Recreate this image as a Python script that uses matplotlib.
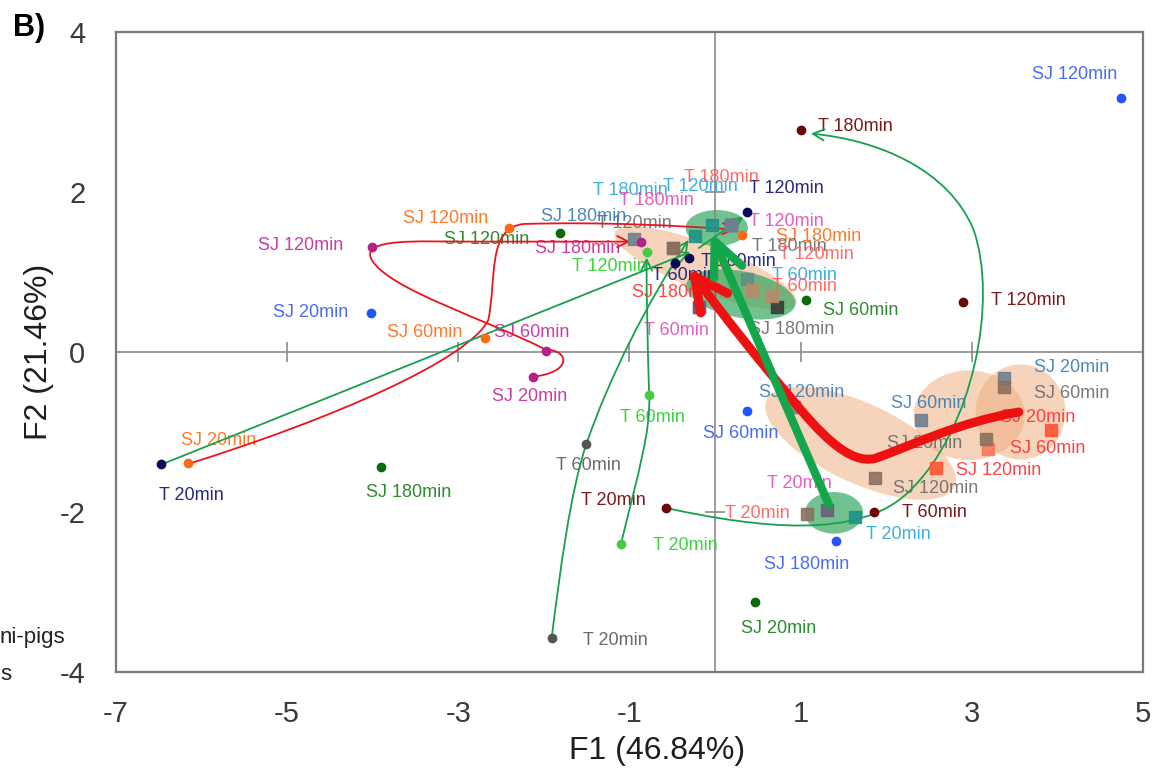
import matplotlib
matplotlib.use("Agg")
import numpy as np
from matplotlib import pyplot as plt
from matplotlib.patches import Ellipse, FancyArrowPatch
from matplotlib.path import Path

plt.rcParams["font.family"] = ["Liberation Sans", "DejaVu Sans"]
plt.rcParams["axes.unicode_minus"] = False

# individual samples (dots)
pt_label = ["SJ 120min", "T 180min", "T 120min", "T 60min", "T 20min",
            "SJ 120min", "SJ 20min", "SJ 60min", "SJ 20min", "SJ 120min",
            "SJ 60min", "SJ 20min", "T 20min", "SJ 120min", "SJ 180min",
            "SJ 60min", "SJ 20min", "T 60min", "T 20min", "T 60min",
            "T 20min", "T 120min", "SJ 60min", "SJ 180min", "T 120min",
            "SJ 180min", "SJ 180min", "T 60min", "T 180min"]
pt_x = [4.74, 1.01, 2.90, 1.86, -0.57, -4.01, -4.02, -1.98, -2.13, -2.41,
        -2.69, -6.16, -6.48, -1.81, -3.90, 1.06, 0.47, -1.51, -1.91, -0.77,
        -1.10, -0.80, 0.37, 1.41, 0.37, 0.31, -0.87, -0.47, -0.30]
pt_y = [3.18, 2.78, 0.63, -2.00, -1.95, 1.31, 0.49, 0.01, -0.31, 1.55,
        0.18, -1.39, -1.40, 1.49, -1.44, 0.65, -3.13, -1.15, -3.58, -0.54,
        -2.40, 1.25, -0.74, -2.36, 1.75, 1.46, 1.38, 1.11, 1.18]
pt_group = ["blue", "maroon", "maroon", "maroon", "maroon",
            "magenta", "blue", "magenta", "magenta", "orange",
            "orange", "orange", "navy", "dgreen", "dgreen",
            "dgreen", "dgreen", "gray", "gray", "lgreen",
            "lgreen", "lgreen", "blue", "blue", "navy",
            "orange", "magenta", "navy", "navy"]

# group means (squares)
sq_label = ["T 120min", "SJ 180min", "T 180min", "T 120min", "T 180min",
            "T 180min", "T 120min", "T 180min", "T 120min", "T 60min",
            "T 60min", "SJ 180min", "T 60min", "SJ 180min", "",
            "SJ 20min", "SJ 60min", "SJ 20min", "SJ 60min", "SJ 20min",
            "SJ 120min", "SJ 60min", "SJ 120min", "SJ 120min", "T 20min",
            "T 20min", "T 20min"]
sq_x = [-0.95, -0.49, -0.23, -0.04, 0.19, -0.49, 0.19, 0.19, 0.19, 0.37,
        0.43, -0.19, -0.19, 0.72, 0.66, 3.38, 3.38, 3.93, 3.19, 3.17,
        2.58, 2.41, 1.87, 0.92, 1.08, 1.31, 1.64]
sq_y = [1.41, 1.30, 1.45, 1.59, 1.59, 1.30, 1.59, 1.59, 1.59, 0.91,
        0.78, 0.56, 0.56, 0.56, 0.70, -0.33, -0.44, -0.98, -1.21, -1.09,
        -1.45, -0.85, -1.58, -0.69, -2.03, -1.98, -2.06]
sq_group = ["gray", "steel", "sky", "sky", "salmon", "pink", "pink", "gray",
            "salmon", "sky", "salmon", "red", "pink", "gray", "gray",
            "steel", "gray", "red", "red", "gray", "red", "steel", "gray",
            "steel", "salmon", "pink", "sky"]
sq_face = ["steel", "brown", "teal", "teal", "steel", "brown", "steel",
           "steel", "steel", "slate", "tan", "purple", "purple", "dark",
           "tan", "steel", "brown", "red", "salmon", "brown", "red", "steel",
           "brown", "steel", "brown", "purple", "teal"]

# cluster ellipses: x, y, width, height, angle
peach_x = [-0.11, 1.70, 2.97, 3.57]
peach_y = [1.05, -1.14, -0.79, -0.75]
peach_w = [2.30, 2.45, 1.30, 1.05]
peach_h = [0.58, 0.98, 1.12, 1.19]
peach_a = [-23, -27, 0, 0]
green_x = [0.02, 0.30, 1.39]
green_y = [1.55, 0.72, -2.01]
green_w = [0.73, 1.30, 0.68]
green_h = [0.45, 0.58, 0.52]
green_a = [0, -12, 0]

# trajectories (bezier control points, data units)
red_orange = [(-6.16, -1.40), (-4.51, -0.85), (-2.88, -0.10), (-2.65, 0.40),
              (-2.55, 0.90), (-2.67, 1.55), (-2.24, 1.60),
              (-1.36, 1.63), (-0.43, 1.58), (0.24, 1.53)]
red_magenta = [(-2.13, -0.31), (-1.65, -0.25), (-1.71, 0.03), (-1.98, 0.03),
               (-2.65, 0.40), (-3.81, 0.78), (-4.01, 1.15),
               (-4.16, 1.43), (-3.46, 1.38), (-2.88, 1.38),
               (-2.30, 1.38), (-1.60, 1.38), (-0.99, 1.38)]
green_navy1 = [(-6.48, -1.41), (-0.29, 1.25)]
green_navy2 = [(-0.19, 1.30), (0.33, 1.69)]
green_gray = [(-1.91, -3.58), (-1.81, -2.73), (-1.69, -1.73), (-1.50, -1.14),
              (-1.25, -0.35), (-0.78, 0.65), (-0.31, 1.40)]
green_light = [(-1.10, -2.40), (-0.89, -1.48), (-0.75, -0.98), (-0.77, -0.54),
               (-0.79, 0.15), (-0.80, 0.65), (-0.80, 1.18)]
green_maroon = [(-0.57, -1.95), (0.51, -2.20), (1.68, -2.35), (2.26, -1.75),
                (3.02, -0.98), (3.31, 0.65), (3.02, 1.53),
                (2.73, 2.28), (1.91, 2.65), (1.12, 2.73)]
thick_red = [(3.55, -0.75), (2.84, -0.88), (2.32, -1.16), (1.87, -1.33),
             (1.56, -1.41), (1.21, -1.00), (0.86, -0.54),
             (0.55, -0.15), (0.10, 0.45), (-0.31, 1.05)]
thick_green = [(1.33, -1.91), (-0.05, 1.50)]

# ---- styling / layout ----
label_col = {"blue": "#4a6cf5", "maroon": "#7a1a1a", "magenta": "#c93ca6",
             "orange": "#ff7a2a", "navy": "#28287e", "dgreen": "#2e8b2e",
             "gray": "#6b6b6b", "lgreen": "#3dd43d", "steel": "#3a7db0",
             "sky": "#2aa6dc", "salmon": "#ff5c5c", "pink": "#e44cb8",
             "red": "#ff3030"}
dot_col = {"blue": "#2255ff", "maroon": "#6a0808", "magenta": "#b5208a",
           "orange": "#ff6a12", "navy": "#0a0a5a", "dgreen": "#0a6a0a",
           "gray": "#555555", "lgreen": "#44cc44"}
sq_col = {"steel": "#6e8090", "brown": "#8b7060", "teal": "#1f9488",
          "red": "#ff5533", "salmon": "#fa7a5a", "purple": "#6f5c7e",
          "dark": "#3a3a3a", "tan": "#b98a68", "slate": "#5f8f88"}

# label offsets in pixels from the marker
pt_offset = [(-46, 23), (54, 3), (65, 1), (60, 0), (-53, 8), (-71, 2), (-60, 0),
             (-14, 19), (-3, -20), (-63, 10), (-60, 5), (31, 23), (31, -31),
             (-74, -7), (27, -25), (55, -10), (23, -26), (3, -21), (64, -2),
             (3, -22), (64, -1), (-37, -14), (-6, -22), (-29, -24), (40, 24),
             (77, -1), (-63, -7), (10, -12), (49, -4)]
sq_offset = [(1, 16), (-89, 32), (-65, 46), (-11, 38), (-10, 47), (-17, 48),
             (55, 3), (58, -22), (85, -30), (58, 4), (53, 3), (-24, 15),
             (-22, -23), (15, -22), (0, 0), (67, 11), (67, -6), (-14, 13),
             (60, 0), (-62, -4), (63, -2), (7, 17), (61, -10), (8, 15),
             (-50, 1), (-28, 27), (43, -18)]


def bezier(pts):
    codes = [Path.MOVETO] + ([Path.LINETO] if len(pts) == 2 else [Path.CURVE4] * (len(pts) - 1))
    return Path(pts, codes)


fig = plt.figure(figsize=(11.6, 7.77), dpi=100)
ax = fig.add_axes([0.1, 0.1351, 0.8853, 0.8237])
ax.set_xlim(-7, 5)
ax.set_ylim(-4, 4)

for s in ax.spines.values():
    s.set_color("#7a7a7a")
    s.set_linewidth(1.6)

ax.set_xticks([-7, -5, -3, -1, 1, 3, 5])
ax.set_xticklabels(["-7", "-5", "-3", "-1", "1", "3", "5"])
ax.set_yticks([-4, -2, 0, 2, 4])
ax.set_yticklabels(["-4", "-2", "0", "2", "4"])
ax.tick_params(axis="both", length=0, labelsize=21, labelcolor="#3a3a3a")
ax.tick_params(axis="x", pad=20)
ax.tick_params(axis="y", pad=22)

ax.set_xlabel("F1 (46.84%)", fontsize=23, color="#1e1e1e")
ax.xaxis.set_label_coords(0.527, -0.10)
ax.set_ylabel("F2 (21.46%)", fontsize=23, color="#1e1e1e")
ax.yaxis.set_label_coords(-0.06, 0.5)

# axes through the origin with small ticks
ax.axhline(0, color="#8a8a8a", lw=1.2, zorder=1.5)
ax.axvline(0, color="#8a8a8a", lw=1.2, zorder=1.5)
ax.plot([-5, -3, -1, 1, 3], [0] * 5, ls="none", marker="|", ms=14,
        mew=1.2, color="#8a8a8a", zorder=1.5)
ax.plot([0, 0], [-2, 2], ls="none", marker="_", ms=14, mew=1.2,
        color="#8a8a8a", zorder=1.5)

for i in range(len(peach_x)):
    ax.add_patch(Ellipse((peach_x[i], peach_y[i]), peach_w[i], peach_h[i],
                         angle=peach_a[i], facecolor="#f0b083", alpha=0.55,
                         edgecolor="none", zorder=1))
for i in range(len(green_x)):
    ax.add_patch(Ellipse((green_x[i], green_y[i]), green_w[i], green_h[i],
                         angle=green_a[i], facecolor="#2ea55c", alpha=0.68,
                         edgecolor="none", zorder=1.2))

# labels
for i in range(len(pt_label)):
    ax.annotate(pt_label[i], (pt_x[i], pt_y[i]), xytext=pt_offset[i],
                textcoords="offset pixels", ha="center", va="center",
                fontsize=13, color=label_col[pt_group[i]], zorder=2)
for i in range(len(sq_label)):
    if sq_label[i]:
        ax.annotate(sq_label[i], (sq_x[i], sq_y[i]), xytext=sq_offset[i],
                    textcoords="offset pixels", ha="center", va="center",
                    fontsize=13, color=label_col[sq_group[i]], alpha=0.9,
                    zorder=2)

# thin trajectories
thin = [(red_orange, "#e8141e"), (red_magenta, "#e8141e"),
        (green_navy1, "#17a04e"), (green_navy2, "#17a04e"),
        (green_gray, "#17a04e"), (green_light, "#17a04e"),
        (green_maroon, "#17a04e")]
for pts, c in thin:
    ax.add_patch(FancyArrowPatch(path=bezier(pts), arrowstyle="->,head_length=0.8,head_width=0.4",
                                 mutation_scale=10, color=c, lw=1.3, zorder=3))

# markers
for i in range(len(sq_x)):
    ax.plot(sq_x[i], sq_y[i], marker="s", ms=8.5, ls="none",
            color=sq_col[sq_face[i]], alpha=0.9, zorder=4)
for i in range(len(pt_x)):
    ax.plot(pt_x[i], pt_y[i], marker="o", ms=6, ls="none",
            color=dot_col[pt_group[i]], zorder=4.5)

# thick arrows
ax.add_patch(FancyArrowPatch(path=bezier(thick_red), arrowstyle="->,head_length=2.4,head_width=1.2",
                             mutation_scale=10, color="#ee1111", lw=6.5, zorder=5))
ax.add_patch(FancyArrowPatch(path=bezier(thick_green), arrowstyle="->,head_length=2.4,head_width=1.1",
                             mutation_scale=10, color="#13a64a", lw=6, zorder=5))

fig.text(13 / 1160, 1 - 28 / 777, "B)", fontsize=22, fontweight="bold",
         ha="left", va="center")
fig.text(0, 1 - 637 / 777, "ni-pigs", fontsize=16, ha="left", va="center", color="#222222")
fig.text(0, 1 - 674 / 777, "s", fontsize=16, ha="left", va="center", color="#222222")

fig.savefig("out.png", dpi=100)
